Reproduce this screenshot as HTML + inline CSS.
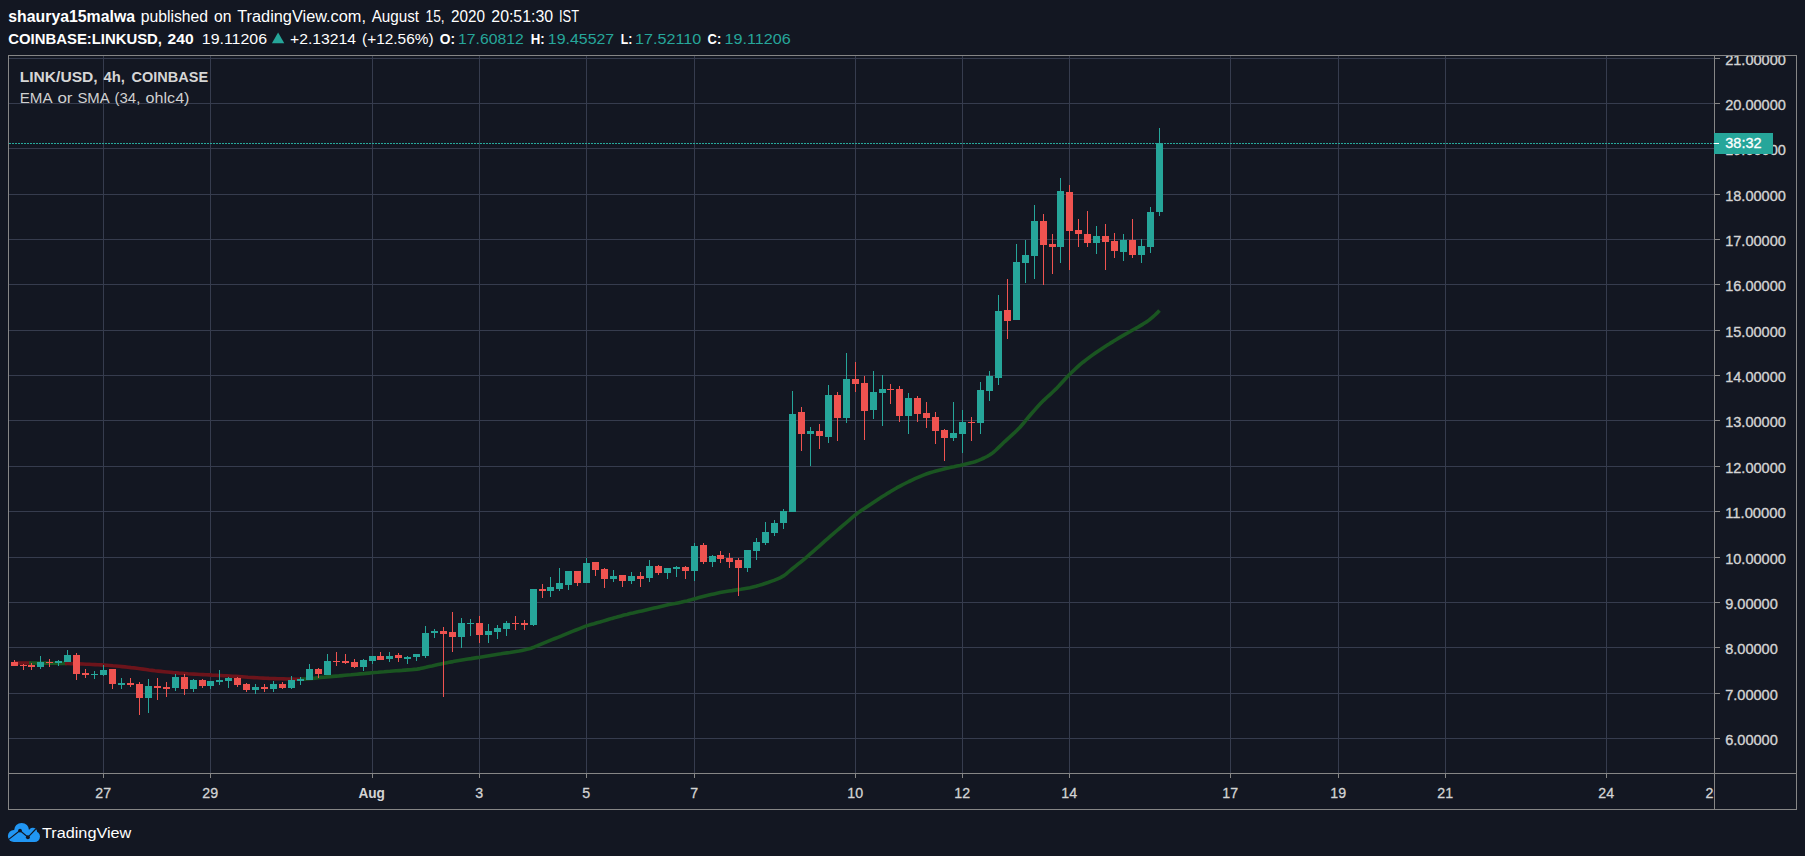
<!DOCTYPE html>
<html><head><meta charset="utf-8"><title>LINK/USD chart</title>
<style>html,body{margin:0;padding:0;background:#131722;}body{width:1805px;height:856px;overflow:hidden;}svg{display:block;}text{font-family:"Liberation Sans", sans-serif;}</style></head><body>
<svg width="1805" height="856" viewBox="0 0 1805 856">
<rect width="1805" height="856" fill="#131722"/>
<g shape-rendering="crispEdges" fill="#363c4e">
<rect x="9" y="58" width="1705" height="1"/>
<rect x="9" y="103" width="1705" height="1"/>
<rect x="9" y="148" width="1705" height="1"/>
<rect x="9" y="194" width="1705" height="1"/>
<rect x="9" y="239" width="1705" height="1"/>
<rect x="9" y="284" width="1705" height="1"/>
<rect x="9" y="330" width="1705" height="1"/>
<rect x="9" y="375" width="1705" height="1"/>
<rect x="9" y="420" width="1705" height="1"/>
<rect x="9" y="466" width="1705" height="1"/>
<rect x="9" y="511" width="1705" height="1"/>
<rect x="9" y="557" width="1705" height="1"/>
<rect x="9" y="602" width="1705" height="1"/>
<rect x="9" y="647" width="1705" height="1"/>
<rect x="9" y="693" width="1705" height="1"/>
<rect x="9" y="738" width="1705" height="1"/>
<rect x="103" y="56" width="1" height="717"/>
<rect x="210" y="56" width="1" height="717"/>
<rect x="372" y="56" width="1" height="717"/>
<rect x="479" y="56" width="1" height="717"/>
<rect x="586" y="56" width="1" height="717"/>
<rect x="694" y="56" width="1" height="717"/>
<rect x="855" y="56" width="1" height="717"/>
<rect x="962" y="56" width="1" height="717"/>
<rect x="1069" y="56" width="1" height="717"/>
<rect x="1230" y="56" width="1" height="717"/>
<rect x="1338" y="56" width="1" height="717"/>
<rect x="1445" y="56" width="1" height="717"/>
<rect x="1606" y="56" width="1" height="717"/>
</g>
<path d="M14.5 663.0 L17.5 663.0 L20.5 663.0 L23.5 663.0 L26.5 663.0 L29.5 663.0 L31.0 663.0" fill="none" stroke="#6c141b" stroke-width="3.6" stroke-linejoin="round"/>
<path d="M29.0 663.0 L32.0 663.0 L35.0 663.0 L38.0 663.0 L41.0 663.1 L44.0 663.1 L47.0 663.1 L50.0 663.2 L53.0 663.2 L56.0 663.3 L59.0 663.4 L62.0 663.4 L65.0 663.5 L67.0 663.5" fill="none" stroke="#1a5521" stroke-width="3.6" stroke-linejoin="round"/>
<path d="M65.0 663.5 L68.0 663.5 L71.0 663.6 L74.0 663.7 L77.0 663.8 L80.0 663.9 L83.0 664.0 L86.0 664.2 L89.0 664.3 L92.0 664.5 L95.0 664.6 L98.0 664.8 L101.0 664.9 L104.0 665.1 L107.0 665.3 L110.0 665.5 L113.0 665.8 L116.0 666.0 L119.0 666.3 L122.0 666.6 L125.0 666.9 L128.0 667.2 L131.0 667.6 L134.0 667.9 L137.0 668.3 L140.0 668.7 L143.0 669.1 L146.0 669.5 L149.0 670.0 L152.0 670.4 L155.0 670.8 L158.0 671.1 L161.0 671.4 L164.0 671.7 L167.0 672.0 L170.0 672.3 L173.0 672.6 L176.0 672.8 L179.0 673.1 L182.0 673.3 L185.0 673.5 L188.0 673.8 L191.0 674.0 L194.0 674.1 L197.0 674.3 L200.0 674.5 L203.0 674.6 L206.0 674.8 L209.0 674.9 L212.0 675.1 L215.0 675.2 L218.0 675.4 L221.0 675.5 L224.0 675.7 L227.0 675.8 L230.0 676.0 L233.0 676.2 L236.0 676.4 L239.0 676.6 L242.0 676.8 L245.0 677.0 L248.0 677.3 L251.0 677.5 L254.0 677.6 L257.0 677.8 L260.0 678.0 L263.0 678.1 L266.0 678.2 L269.0 678.4 L272.0 678.5 L275.0 678.6 L278.0 678.7 L281.0 678.8 L284.0 678.9 L287.0 679.0 L290.0 679.0 L293.0 679.1 L296.0 679.2 L299.0 679.2 L302.0 679.2" fill="none" stroke="#6c141b" stroke-width="3.6" stroke-linejoin="round"/>
<path d="M300.0 679.2 L303.0 679.1 L306.0 679.0 L309.0 678.7 L312.0 678.4 L315.0 678.1 L318.0 677.7 L321.0 677.4 L324.0 677.2 L327.0 676.9 L330.0 676.7 L333.0 676.4 L336.0 676.1 L339.0 675.9 L342.0 675.6 L345.0 675.3 L348.0 675.0 L351.0 674.8 L354.0 674.5 L357.0 674.2 L360.0 673.9 L363.0 673.7 L366.0 673.4 L369.0 673.1 L372.0 672.8 L375.0 672.5 L378.0 672.3 L381.0 672.0 L384.0 671.8 L387.0 671.5 L390.0 671.3 L393.0 671.0 L396.0 670.8 L399.0 670.6 L402.0 670.4 L405.0 670.1 L408.0 669.9 L411.0 669.7 L414.0 669.4 L417.0 669.1 L420.0 668.6 L423.0 667.9 L426.0 667.3 L429.0 666.6 L432.0 666.0 L435.0 665.3 L438.0 664.6 L441.0 663.9 L444.0 663.3 L447.0 662.7 L450.0 662.1 L453.0 661.6 L456.0 661.0 L459.0 660.5 L462.0 660.0 L465.0 659.5 L468.0 659.0 L471.0 658.6 L474.0 658.1 L477.0 657.6 L480.0 657.2 L483.0 656.7 L486.0 656.2 L489.0 655.7 L492.0 655.2 L495.0 654.7 L498.0 654.2 L501.0 653.8 L504.0 653.3 L507.0 652.9 L510.0 652.5 L513.0 652.0 L516.0 651.5 L519.0 651.0 L522.0 650.4 L525.0 649.8 L528.0 649.1 L531.0 648.2 L534.0 647.1 L537.0 645.9 L540.0 644.6 L543.0 643.3 L546.0 642.1 L549.0 640.9 L552.0 639.7 L555.0 638.5 L558.0 637.3 L561.0 636.1 L564.0 634.8 L567.0 633.6 L570.0 632.4 L573.0 631.2 L576.0 630.0 L579.0 628.8 L582.0 627.6 L585.0 626.4 L588.0 625.4 L591.0 624.5 L594.0 623.7 L597.0 622.8 L600.0 622.0 L603.0 621.1 L606.0 620.2 L609.0 619.3 L612.0 618.4 L615.0 617.6 L618.0 616.7 L621.0 615.9 L624.0 615.1 L627.0 614.4 L630.0 613.6 L633.0 613.0 L636.0 612.3 L639.0 611.6 L642.0 610.9 L645.0 610.2 L648.0 609.5 L651.0 608.8 L654.0 608.1 L657.0 607.4 L660.0 606.7 L663.0 606.0 L666.0 605.3 L669.0 604.6 L672.0 604.0 L675.0 603.5 L678.0 602.9 L681.0 602.3 L684.0 601.6 L687.0 600.9 L690.0 600.1 L693.0 599.2 L696.0 598.4 L699.0 597.6 L702.0 596.8 L705.0 596.0 L708.0 595.3 L711.0 594.6 L714.0 593.9 L717.0 593.2 L720.0 592.6 L723.0 592.0 L726.0 591.5 L729.0 591.0 L732.0 590.6 L735.0 590.1 L738.0 589.6 L741.0 589.2 L744.0 588.7 L747.0 588.2 L750.0 587.7 L753.0 587.0 L756.0 586.3 L759.0 585.4 L762.0 584.5 L765.0 583.5 L768.0 582.5 L771.0 581.4 L774.0 580.4 L777.0 579.2 L780.0 577.8 L783.0 576.2 L786.0 574.1 L789.0 571.5 L792.0 569.0 L795.0 566.6 L798.0 564.2 L801.0 561.8 L804.0 559.3 L807.0 556.8 L810.0 554.2 L813.0 551.6 L816.0 548.9 L819.0 546.3 L822.0 543.6 L825.0 540.9 L828.0 538.3 L831.0 535.7 L834.0 533.1 L837.0 530.5 L840.0 528.0 L843.0 525.4 L846.0 522.9 L849.0 520.3 L852.0 517.7 L855.0 515.2 L858.0 512.9 L861.0 510.8 L864.0 508.7 L867.0 506.7 L870.0 504.7 L873.0 502.7 L876.0 500.7 L879.0 498.7 L882.0 496.8 L885.0 495.0 L888.0 493.1 L891.0 491.3 L894.0 489.5 L897.0 487.7 L900.0 486.1 L903.0 484.5 L906.0 483.0 L909.0 481.5 L912.0 480.1 L915.0 478.7 L918.0 477.4 L921.0 476.1 L924.0 474.9 L927.0 473.8 L930.0 472.8 L933.0 471.9 L936.0 471.0 L939.0 470.2 L942.0 469.5 L945.0 468.7 L948.0 468.0 L951.0 467.3 L954.0 466.7 L957.0 466.0 L960.0 465.4 L963.0 464.7 L966.0 464.0 L969.0 463.3 L972.0 462.6 L975.0 461.7 L978.0 460.6 L981.0 459.4 L984.0 458.0 L987.0 456.5 L990.0 454.8 L993.0 452.6 L996.0 450.0 L999.0 447.1 L1002.0 444.2 L1005.0 441.3 L1008.0 438.6 L1011.0 435.9 L1014.0 433.2 L1017.0 430.3 L1020.0 427.2 L1023.0 423.8 L1026.0 420.2 L1029.0 416.5 L1032.0 413.0 L1035.0 409.6 L1038.0 406.3 L1041.0 403.1 L1044.0 400.1 L1047.0 397.3 L1050.0 394.6 L1053.0 391.8 L1056.0 388.9 L1059.0 385.8 L1062.0 382.5 L1065.0 379.3 L1068.0 376.1 L1071.0 373.1 L1074.0 370.2 L1077.0 367.4 L1080.0 364.7 L1083.0 362.2 L1086.0 359.9 L1089.0 357.6 L1092.0 355.4 L1095.0 353.3 L1098.0 351.2 L1101.0 349.2 L1104.0 347.2 L1107.0 345.3 L1110.0 343.4 L1113.0 341.6 L1116.0 339.7 L1119.0 337.9 L1122.0 336.1 L1125.0 334.4 L1128.0 332.7 L1131.0 331.0 L1134.0 329.3 L1137.0 327.7 L1140.0 325.9 L1143.0 324.1 L1146.0 322.2 L1149.0 320.1 L1152.0 317.7 L1155.0 315.0 L1158.0 312.1 L1159.5 310.5" fill="none" stroke="#1a5521" stroke-width="3.6" stroke-linejoin="round"/>
<g shape-rendering="crispEdges">
<rect x="14" y="660" width="1" height="6" fill="#ef5350"/>
<rect x="11" y="662" width="7" height="4" fill="#ef5350"/>
<rect x="23" y="664" width="1" height="6" fill="#ef5350"/>
<rect x="20" y="665" width="7" height="1" fill="#ef5350"/>
<rect x="31" y="663" width="1" height="7" fill="#ef5350"/>
<rect x="28" y="665" width="7" height="2" fill="#ef5350"/>
<rect x="40" y="656" width="1" height="13" fill="#26a69a"/>
<rect x="37" y="662" width="7" height="5" fill="#26a69a"/>
<rect x="49" y="659" width="1" height="8" fill="#ef5350"/>
<rect x="46" y="662" width="7" height="1" fill="#ef5350"/>
<rect x="58" y="660" width="1" height="6" fill="#26a69a"/>
<rect x="55" y="661" width="7" height="2" fill="#26a69a"/>
<rect x="67" y="650" width="1" height="12" fill="#26a69a"/>
<rect x="64" y="655" width="7" height="7" fill="#26a69a"/>
<rect x="76" y="653" width="1" height="27" fill="#ef5350"/>
<rect x="73" y="655" width="7" height="19" fill="#ef5350"/>
<rect x="85" y="669" width="1" height="9" fill="#ef5350"/>
<rect x="82" y="673" width="7" height="2" fill="#ef5350"/>
<rect x="94" y="671" width="1" height="8" fill="#26a69a"/>
<rect x="91" y="674" width="7" height="1" fill="#26a69a"/>
<rect x="103" y="665" width="1" height="11" fill="#26a69a"/>
<rect x="100" y="670" width="7" height="5" fill="#26a69a"/>
<rect x="112" y="669" width="1" height="20" fill="#ef5350"/>
<rect x="109" y="669" width="7" height="15" fill="#ef5350"/>
<rect x="121" y="678" width="1" height="11" fill="#26a69a"/>
<rect x="118" y="683" width="7" height="2" fill="#26a69a"/>
<rect x="130" y="678" width="1" height="9" fill="#ef5350"/>
<rect x="127" y="683" width="7" height="2" fill="#ef5350"/>
<rect x="139" y="682" width="1" height="33" fill="#ef5350"/>
<rect x="136" y="684" width="7" height="14" fill="#ef5350"/>
<rect x="148" y="679" width="1" height="34" fill="#26a69a"/>
<rect x="145" y="686" width="7" height="12" fill="#26a69a"/>
<rect x="157" y="678" width="1" height="22" fill="#ef5350"/>
<rect x="154" y="686" width="7" height="2" fill="#ef5350"/>
<rect x="166" y="682" width="1" height="15" fill="#ef5350"/>
<rect x="163" y="687" width="7" height="2" fill="#ef5350"/>
<rect x="175" y="674" width="1" height="17" fill="#26a69a"/>
<rect x="172" y="677" width="7" height="11" fill="#26a69a"/>
<rect x="184" y="674" width="1" height="21" fill="#ef5350"/>
<rect x="181" y="677" width="7" height="12" fill="#ef5350"/>
<rect x="193" y="679" width="1" height="13" fill="#26a69a"/>
<rect x="190" y="680" width="7" height="9" fill="#26a69a"/>
<rect x="202" y="679" width="1" height="9" fill="#ef5350"/>
<rect x="199" y="680" width="7" height="6" fill="#ef5350"/>
<rect x="210" y="681" width="1" height="8" fill="#26a69a"/>
<rect x="207" y="681" width="7" height="5" fill="#26a69a"/>
<rect x="219" y="670" width="1" height="15" fill="#26a69a"/>
<rect x="216" y="680" width="7" height="2" fill="#26a69a"/>
<rect x="228" y="677" width="1" height="11" fill="#26a69a"/>
<rect x="225" y="678" width="7" height="3" fill="#26a69a"/>
<rect x="237" y="677" width="1" height="10" fill="#ef5350"/>
<rect x="234" y="678" width="7" height="7" fill="#ef5350"/>
<rect x="246" y="683" width="1" height="9" fill="#ef5350"/>
<rect x="243" y="684" width="7" height="6" fill="#ef5350"/>
<rect x="255" y="684" width="1" height="10" fill="#26a69a"/>
<rect x="252" y="687" width="7" height="3" fill="#26a69a"/>
<rect x="264" y="684" width="1" height="8" fill="#ef5350"/>
<rect x="261" y="687" width="7" height="2" fill="#ef5350"/>
<rect x="273" y="681" width="1" height="11" fill="#26a69a"/>
<rect x="270" y="684" width="7" height="5" fill="#26a69a"/>
<rect x="282" y="682" width="1" height="7" fill="#ef5350"/>
<rect x="279" y="684" width="7" height="4" fill="#ef5350"/>
<rect x="291" y="676" width="1" height="13" fill="#26a69a"/>
<rect x="288" y="680" width="7" height="8" fill="#26a69a"/>
<rect x="300" y="677" width="1" height="8" fill="#26a69a"/>
<rect x="297" y="679" width="7" height="2" fill="#26a69a"/>
<rect x="309" y="664" width="1" height="16" fill="#26a69a"/>
<rect x="306" y="669" width="7" height="11" fill="#26a69a"/>
<rect x="318" y="668" width="1" height="10" fill="#ef5350"/>
<rect x="315" y="669" width="7" height="5" fill="#ef5350"/>
<rect x="327" y="654" width="1" height="21" fill="#26a69a"/>
<rect x="324" y="661" width="7" height="14" fill="#26a69a"/>
<rect x="336" y="652" width="1" height="14" fill="#ef5350"/>
<rect x="333" y="661" width="7" height="1" fill="#ef5350"/>
<rect x="345" y="654" width="1" height="10" fill="#ef5350"/>
<rect x="342" y="661" width="7" height="2" fill="#ef5350"/>
<rect x="354" y="659" width="1" height="9" fill="#ef5350"/>
<rect x="351" y="662" width="7" height="5" fill="#ef5350"/>
<rect x="363" y="659" width="1" height="12" fill="#26a69a"/>
<rect x="360" y="660" width="7" height="7" fill="#26a69a"/>
<rect x="372" y="656" width="1" height="8" fill="#26a69a"/>
<rect x="369" y="656" width="7" height="5" fill="#26a69a"/>
<rect x="380" y="652" width="1" height="8" fill="#ef5350"/>
<rect x="377" y="656" width="7" height="4" fill="#ef5350"/>
<rect x="389" y="652" width="1" height="10" fill="#26a69a"/>
<rect x="386" y="656" width="7" height="3" fill="#26a69a"/>
<rect x="398" y="653" width="1" height="9" fill="#ef5350"/>
<rect x="395" y="655" width="7" height="3" fill="#ef5350"/>
<rect x="407" y="656" width="1" height="8" fill="#26a69a"/>
<rect x="404" y="657" width="7" height="2" fill="#26a69a"/>
<rect x="416" y="654" width="1" height="7" fill="#26a69a"/>
<rect x="413" y="654" width="7" height="3" fill="#26a69a"/>
<rect x="425" y="626" width="1" height="32" fill="#26a69a"/>
<rect x="422" y="633" width="7" height="23" fill="#26a69a"/>
<rect x="434" y="629" width="1" height="9" fill="#26a69a"/>
<rect x="431" y="631" width="7" height="2" fill="#26a69a"/>
<rect x="443" y="627" width="1" height="70" fill="#ef5350"/>
<rect x="440" y="631" width="7" height="3" fill="#ef5350"/>
<rect x="452" y="612" width="1" height="40" fill="#ef5350"/>
<rect x="449" y="632" width="7" height="5" fill="#ef5350"/>
<rect x="461" y="618" width="1" height="30" fill="#26a69a"/>
<rect x="458" y="623" width="7" height="14" fill="#26a69a"/>
<rect x="470" y="619" width="1" height="17" fill="#26a69a"/>
<rect x="467" y="623" width="7" height="1" fill="#26a69a"/>
<rect x="479" y="616" width="1" height="27" fill="#ef5350"/>
<rect x="476" y="623" width="7" height="12" fill="#ef5350"/>
<rect x="488" y="624" width="1" height="19" fill="#26a69a"/>
<rect x="485" y="631" width="7" height="4" fill="#26a69a"/>
<rect x="497" y="625" width="1" height="14" fill="#26a69a"/>
<rect x="494" y="628" width="7" height="4" fill="#26a69a"/>
<rect x="506" y="621" width="1" height="15" fill="#26a69a"/>
<rect x="503" y="623" width="7" height="6" fill="#26a69a"/>
<rect x="515" y="616" width="1" height="14" fill="#ef5350"/>
<rect x="512" y="623" width="7" height="1" fill="#ef5350"/>
<rect x="524" y="620" width="1" height="10" fill="#ef5350"/>
<rect x="521" y="623" width="7" height="2" fill="#ef5350"/>
<rect x="533" y="589" width="1" height="37" fill="#26a69a"/>
<rect x="530" y="589" width="7" height="36" fill="#26a69a"/>
<rect x="542" y="584" width="1" height="14" fill="#ef5350"/>
<rect x="539" y="589" width="7" height="2" fill="#ef5350"/>
<rect x="550" y="577" width="1" height="20" fill="#26a69a"/>
<rect x="547" y="587" width="7" height="4" fill="#26a69a"/>
<rect x="559" y="568" width="1" height="23" fill="#26a69a"/>
<rect x="556" y="583" width="7" height="6" fill="#26a69a"/>
<rect x="568" y="571" width="1" height="19" fill="#26a69a"/>
<rect x="565" y="571" width="7" height="14" fill="#26a69a"/>
<rect x="577" y="571" width="1" height="15" fill="#ef5350"/>
<rect x="574" y="571" width="7" height="12" fill="#ef5350"/>
<rect x="586" y="558" width="1" height="25" fill="#26a69a"/>
<rect x="583" y="563" width="7" height="20" fill="#26a69a"/>
<rect x="595" y="562" width="1" height="14" fill="#ef5350"/>
<rect x="592" y="562" width="7" height="8" fill="#ef5350"/>
<rect x="604" y="568" width="1" height="20" fill="#ef5350"/>
<rect x="601" y="569" width="7" height="10" fill="#ef5350"/>
<rect x="613" y="570" width="1" height="12" fill="#26a69a"/>
<rect x="610" y="576" width="7" height="3" fill="#26a69a"/>
<rect x="622" y="575" width="1" height="12" fill="#ef5350"/>
<rect x="619" y="575" width="7" height="6" fill="#ef5350"/>
<rect x="631" y="572" width="1" height="12" fill="#26a69a"/>
<rect x="628" y="576" width="7" height="5" fill="#26a69a"/>
<rect x="640" y="572" width="1" height="15" fill="#ef5350"/>
<rect x="637" y="576" width="7" height="3" fill="#ef5350"/>
<rect x="649" y="560" width="1" height="22" fill="#26a69a"/>
<rect x="646" y="566" width="7" height="12" fill="#26a69a"/>
<rect x="658" y="565" width="1" height="10" fill="#ef5350"/>
<rect x="655" y="566" width="7" height="7" fill="#ef5350"/>
<rect x="667" y="568" width="1" height="11" fill="#26a69a"/>
<rect x="664" y="568" width="7" height="5" fill="#26a69a"/>
<rect x="676" y="566" width="1" height="11" fill="#26a69a"/>
<rect x="673" y="567" width="7" height="2" fill="#26a69a"/>
<rect x="685" y="566" width="1" height="13" fill="#ef5350"/>
<rect x="682" y="567" width="7" height="4" fill="#ef5350"/>
<rect x="694" y="543" width="1" height="38" fill="#26a69a"/>
<rect x="691" y="546" width="7" height="25" fill="#26a69a"/>
<rect x="703" y="543" width="1" height="21" fill="#ef5350"/>
<rect x="700" y="545" width="7" height="17" fill="#ef5350"/>
<rect x="712" y="555" width="1" height="12" fill="#26a69a"/>
<rect x="709" y="556" width="7" height="6" fill="#26a69a"/>
<rect x="720" y="551" width="1" height="12" fill="#ef5350"/>
<rect x="717" y="555" width="7" height="4" fill="#ef5350"/>
<rect x="729" y="553" width="1" height="15" fill="#ef5350"/>
<rect x="726" y="558" width="7" height="4" fill="#ef5350"/>
<rect x="738" y="558" width="1" height="38" fill="#ef5350"/>
<rect x="735" y="560" width="7" height="8" fill="#ef5350"/>
<rect x="747" y="550" width="1" height="22" fill="#26a69a"/>
<rect x="744" y="550" width="7" height="18" fill="#26a69a"/>
<rect x="756" y="538" width="1" height="22" fill="#26a69a"/>
<rect x="753" y="542" width="7" height="9" fill="#26a69a"/>
<rect x="765" y="522" width="1" height="23" fill="#26a69a"/>
<rect x="762" y="532" width="7" height="11" fill="#26a69a"/>
<rect x="774" y="520" width="1" height="16" fill="#26a69a"/>
<rect x="771" y="523" width="7" height="10" fill="#26a69a"/>
<rect x="783" y="509" width="1" height="20" fill="#26a69a"/>
<rect x="780" y="511" width="7" height="12" fill="#26a69a"/>
<rect x="792" y="391" width="1" height="121" fill="#26a69a"/>
<rect x="789" y="414" width="7" height="98" fill="#26a69a"/>
<rect x="801" y="407" width="1" height="44" fill="#ef5350"/>
<rect x="798" y="412" width="7" height="22" fill="#ef5350"/>
<rect x="810" y="427" width="1" height="39" fill="#26a69a"/>
<rect x="807" y="431" width="7" height="3" fill="#26a69a"/>
<rect x="819" y="424" width="1" height="25" fill="#ef5350"/>
<rect x="816" y="431" width="7" height="5" fill="#ef5350"/>
<rect x="828" y="385" width="1" height="58" fill="#26a69a"/>
<rect x="825" y="395" width="7" height="42" fill="#26a69a"/>
<rect x="837" y="392" width="1" height="49" fill="#ef5350"/>
<rect x="834" y="395" width="7" height="23" fill="#ef5350"/>
<rect x="846" y="353" width="1" height="70" fill="#26a69a"/>
<rect x="843" y="379" width="7" height="39" fill="#26a69a"/>
<rect x="855" y="362" width="1" height="30" fill="#ef5350"/>
<rect x="852" y="379" width="7" height="5" fill="#ef5350"/>
<rect x="864" y="376" width="1" height="64" fill="#ef5350"/>
<rect x="861" y="383" width="7" height="28" fill="#ef5350"/>
<rect x="873" y="371" width="1" height="48" fill="#26a69a"/>
<rect x="870" y="392" width="7" height="18" fill="#26a69a"/>
<rect x="882" y="375" width="1" height="51" fill="#26a69a"/>
<rect x="879" y="389" width="7" height="4" fill="#26a69a"/>
<rect x="890" y="384" width="1" height="20" fill="#ef5350"/>
<rect x="887" y="389" width="7" height="1" fill="#ef5350"/>
<rect x="899" y="386" width="1" height="36" fill="#ef5350"/>
<rect x="896" y="389" width="7" height="27" fill="#ef5350"/>
<rect x="908" y="393" width="1" height="41" fill="#26a69a"/>
<rect x="905" y="398" width="7" height="18" fill="#26a69a"/>
<rect x="917" y="396" width="1" height="26" fill="#ef5350"/>
<rect x="914" y="398" width="7" height="16" fill="#ef5350"/>
<rect x="926" y="402" width="1" height="26" fill="#ef5350"/>
<rect x="923" y="413" width="7" height="5" fill="#ef5350"/>
<rect x="935" y="412" width="1" height="32" fill="#ef5350"/>
<rect x="932" y="417" width="7" height="14" fill="#ef5350"/>
<rect x="944" y="429" width="1" height="32" fill="#ef5350"/>
<rect x="941" y="430" width="7" height="8" fill="#ef5350"/>
<rect x="953" y="402" width="1" height="39" fill="#26a69a"/>
<rect x="950" y="433" width="7" height="5" fill="#26a69a"/>
<rect x="962" y="410" width="1" height="43" fill="#26a69a"/>
<rect x="959" y="422" width="7" height="12" fill="#26a69a"/>
<rect x="971" y="417" width="1" height="24" fill="#ef5350"/>
<rect x="968" y="422" width="7" height="1" fill="#ef5350"/>
<rect x="980" y="382" width="1" height="52" fill="#26a69a"/>
<rect x="977" y="390" width="7" height="33" fill="#26a69a"/>
<rect x="989" y="371" width="1" height="30" fill="#26a69a"/>
<rect x="986" y="376" width="7" height="15" fill="#26a69a"/>
<rect x="998" y="295" width="1" height="90" fill="#26a69a"/>
<rect x="995" y="311" width="7" height="67" fill="#26a69a"/>
<rect x="1007" y="279" width="1" height="60" fill="#ef5350"/>
<rect x="1004" y="310" width="7" height="11" fill="#ef5350"/>
<rect x="1016" y="244" width="1" height="76" fill="#26a69a"/>
<rect x="1013" y="262" width="7" height="58" fill="#26a69a"/>
<rect x="1025" y="240" width="1" height="43" fill="#26a69a"/>
<rect x="1022" y="255" width="7" height="8" fill="#26a69a"/>
<rect x="1034" y="205" width="1" height="74" fill="#26a69a"/>
<rect x="1031" y="221" width="7" height="35" fill="#26a69a"/>
<rect x="1043" y="214" width="1" height="71" fill="#ef5350"/>
<rect x="1040" y="221" width="7" height="24" fill="#ef5350"/>
<rect x="1052" y="234" width="1" height="40" fill="#ef5350"/>
<rect x="1049" y="244" width="7" height="3" fill="#ef5350"/>
<rect x="1060" y="178" width="1" height="85" fill="#26a69a"/>
<rect x="1057" y="191" width="7" height="56" fill="#26a69a"/>
<rect x="1069" y="185" width="1" height="85" fill="#ef5350"/>
<rect x="1066" y="192" width="7" height="39" fill="#ef5350"/>
<rect x="1078" y="219" width="1" height="28" fill="#ef5350"/>
<rect x="1075" y="230" width="7" height="4" fill="#ef5350"/>
<rect x="1087" y="211" width="1" height="36" fill="#ef5350"/>
<rect x="1084" y="234" width="7" height="9" fill="#ef5350"/>
<rect x="1096" y="226" width="1" height="28" fill="#26a69a"/>
<rect x="1093" y="236" width="7" height="7" fill="#26a69a"/>
<rect x="1105" y="224" width="1" height="46" fill="#ef5350"/>
<rect x="1102" y="236" width="7" height="6" fill="#ef5350"/>
<rect x="1114" y="233" width="1" height="25" fill="#ef5350"/>
<rect x="1111" y="241" width="7" height="10" fill="#ef5350"/>
<rect x="1123" y="234" width="1" height="27" fill="#26a69a"/>
<rect x="1120" y="240" width="7" height="12" fill="#26a69a"/>
<rect x="1132" y="219" width="1" height="39" fill="#ef5350"/>
<rect x="1129" y="240" width="7" height="15" fill="#ef5350"/>
<rect x="1141" y="239" width="1" height="24" fill="#26a69a"/>
<rect x="1138" y="246" width="7" height="9" fill="#26a69a"/>
<rect x="1150" y="207" width="1" height="46" fill="#26a69a"/>
<rect x="1147" y="212" width="7" height="35" fill="#26a69a"/>
<rect x="1159" y="128" width="1" height="88" fill="#26a69a"/>
<rect x="1156" y="143" width="7" height="69" fill="#26a69a"/>
</g>
<g shape-rendering="crispEdges" fill="#27a99c">
<path d="M9 143h2v1h-2zM12 143h2v1h-2zM15 143h2v1h-2zM18 143h2v1h-2zM21 143h2v1h-2zM24 143h2v1h-2zM27 143h2v1h-2zM30 143h2v1h-2zM33 143h2v1h-2zM36 143h2v1h-2zM39 143h2v1h-2zM42 143h2v1h-2zM45 143h2v1h-2zM48 143h2v1h-2zM51 143h2v1h-2zM54 143h2v1h-2zM57 143h2v1h-2zM60 143h2v1h-2zM63 143h2v1h-2zM66 143h2v1h-2zM69 143h2v1h-2zM72 143h2v1h-2zM75 143h2v1h-2zM78 143h2v1h-2zM81 143h2v1h-2zM84 143h2v1h-2zM87 143h2v1h-2zM90 143h2v1h-2zM93 143h2v1h-2zM96 143h2v1h-2zM99 143h2v1h-2zM102 143h2v1h-2zM105 143h2v1h-2zM108 143h2v1h-2zM111 143h2v1h-2zM114 143h2v1h-2zM117 143h2v1h-2zM120 143h2v1h-2zM123 143h2v1h-2zM126 143h2v1h-2zM129 143h2v1h-2zM132 143h2v1h-2zM135 143h2v1h-2zM138 143h2v1h-2zM141 143h2v1h-2zM144 143h2v1h-2zM147 143h2v1h-2zM150 143h2v1h-2zM153 143h2v1h-2zM156 143h2v1h-2zM159 143h2v1h-2zM162 143h2v1h-2zM165 143h2v1h-2zM168 143h2v1h-2zM171 143h2v1h-2zM174 143h2v1h-2zM177 143h2v1h-2zM180 143h2v1h-2zM183 143h2v1h-2zM186 143h2v1h-2zM189 143h2v1h-2zM192 143h2v1h-2zM195 143h2v1h-2zM198 143h2v1h-2zM201 143h2v1h-2zM204 143h2v1h-2zM207 143h2v1h-2zM210 143h2v1h-2zM213 143h2v1h-2zM216 143h2v1h-2zM219 143h2v1h-2zM222 143h2v1h-2zM225 143h2v1h-2zM228 143h2v1h-2zM231 143h2v1h-2zM234 143h2v1h-2zM237 143h2v1h-2zM240 143h2v1h-2zM243 143h2v1h-2zM246 143h2v1h-2zM249 143h2v1h-2zM252 143h2v1h-2zM255 143h2v1h-2zM258 143h2v1h-2zM261 143h2v1h-2zM264 143h2v1h-2zM267 143h2v1h-2zM270 143h2v1h-2zM273 143h2v1h-2zM276 143h2v1h-2zM279 143h2v1h-2zM282 143h2v1h-2zM285 143h2v1h-2zM288 143h2v1h-2zM291 143h2v1h-2zM294 143h2v1h-2zM297 143h2v1h-2zM300 143h2v1h-2zM303 143h2v1h-2zM306 143h2v1h-2zM309 143h2v1h-2zM312 143h2v1h-2zM315 143h2v1h-2zM318 143h2v1h-2zM321 143h2v1h-2zM324 143h2v1h-2zM327 143h2v1h-2zM330 143h2v1h-2zM333 143h2v1h-2zM336 143h2v1h-2zM339 143h2v1h-2zM342 143h2v1h-2zM345 143h2v1h-2zM348 143h2v1h-2zM351 143h2v1h-2zM354 143h2v1h-2zM357 143h2v1h-2zM360 143h2v1h-2zM363 143h2v1h-2zM366 143h2v1h-2zM369 143h2v1h-2zM372 143h2v1h-2zM375 143h2v1h-2zM378 143h2v1h-2zM381 143h2v1h-2zM384 143h2v1h-2zM387 143h2v1h-2zM390 143h2v1h-2zM393 143h2v1h-2zM396 143h2v1h-2zM399 143h2v1h-2zM402 143h2v1h-2zM405 143h2v1h-2zM408 143h2v1h-2zM411 143h2v1h-2zM414 143h2v1h-2zM417 143h2v1h-2zM420 143h2v1h-2zM423 143h2v1h-2zM426 143h2v1h-2zM429 143h2v1h-2zM432 143h2v1h-2zM435 143h2v1h-2zM438 143h2v1h-2zM441 143h2v1h-2zM444 143h2v1h-2zM447 143h2v1h-2zM450 143h2v1h-2zM453 143h2v1h-2zM456 143h2v1h-2zM459 143h2v1h-2zM462 143h2v1h-2zM465 143h2v1h-2zM468 143h2v1h-2zM471 143h2v1h-2zM474 143h2v1h-2zM477 143h2v1h-2zM480 143h2v1h-2zM483 143h2v1h-2zM486 143h2v1h-2zM489 143h2v1h-2zM492 143h2v1h-2zM495 143h2v1h-2zM498 143h2v1h-2zM501 143h2v1h-2zM504 143h2v1h-2zM507 143h2v1h-2zM510 143h2v1h-2zM513 143h2v1h-2zM516 143h2v1h-2zM519 143h2v1h-2zM522 143h2v1h-2zM525 143h2v1h-2zM528 143h2v1h-2zM531 143h2v1h-2zM534 143h2v1h-2zM537 143h2v1h-2zM540 143h2v1h-2zM543 143h2v1h-2zM546 143h2v1h-2zM549 143h2v1h-2zM552 143h2v1h-2zM555 143h2v1h-2zM558 143h2v1h-2zM561 143h2v1h-2zM564 143h2v1h-2zM567 143h2v1h-2zM570 143h2v1h-2zM573 143h2v1h-2zM576 143h2v1h-2zM579 143h2v1h-2zM582 143h2v1h-2zM585 143h2v1h-2zM588 143h2v1h-2zM591 143h2v1h-2zM594 143h2v1h-2zM597 143h2v1h-2zM600 143h2v1h-2zM603 143h2v1h-2zM606 143h2v1h-2zM609 143h2v1h-2zM612 143h2v1h-2zM615 143h2v1h-2zM618 143h2v1h-2zM621 143h2v1h-2zM624 143h2v1h-2zM627 143h2v1h-2zM630 143h2v1h-2zM633 143h2v1h-2zM636 143h2v1h-2zM639 143h2v1h-2zM642 143h2v1h-2zM645 143h2v1h-2zM648 143h2v1h-2zM651 143h2v1h-2zM654 143h2v1h-2zM657 143h2v1h-2zM660 143h2v1h-2zM663 143h2v1h-2zM666 143h2v1h-2zM669 143h2v1h-2zM672 143h2v1h-2zM675 143h2v1h-2zM678 143h2v1h-2zM681 143h2v1h-2zM684 143h2v1h-2zM687 143h2v1h-2zM690 143h2v1h-2zM693 143h2v1h-2zM696 143h2v1h-2zM699 143h2v1h-2zM702 143h2v1h-2zM705 143h2v1h-2zM708 143h2v1h-2zM711 143h2v1h-2zM714 143h2v1h-2zM717 143h2v1h-2zM720 143h2v1h-2zM723 143h2v1h-2zM726 143h2v1h-2zM729 143h2v1h-2zM732 143h2v1h-2zM735 143h2v1h-2zM738 143h2v1h-2zM741 143h2v1h-2zM744 143h2v1h-2zM747 143h2v1h-2zM750 143h2v1h-2zM753 143h2v1h-2zM756 143h2v1h-2zM759 143h2v1h-2zM762 143h2v1h-2zM765 143h2v1h-2zM768 143h2v1h-2zM771 143h2v1h-2zM774 143h2v1h-2zM777 143h2v1h-2zM780 143h2v1h-2zM783 143h2v1h-2zM786 143h2v1h-2zM789 143h2v1h-2zM792 143h2v1h-2zM795 143h2v1h-2zM798 143h2v1h-2zM801 143h2v1h-2zM804 143h2v1h-2zM807 143h2v1h-2zM810 143h2v1h-2zM813 143h2v1h-2zM816 143h2v1h-2zM819 143h2v1h-2zM822 143h2v1h-2zM825 143h2v1h-2zM828 143h2v1h-2zM831 143h2v1h-2zM834 143h2v1h-2zM837 143h2v1h-2zM840 143h2v1h-2zM843 143h2v1h-2zM846 143h2v1h-2zM849 143h2v1h-2zM852 143h2v1h-2zM855 143h2v1h-2zM858 143h2v1h-2zM861 143h2v1h-2zM864 143h2v1h-2zM867 143h2v1h-2zM870 143h2v1h-2zM873 143h2v1h-2zM876 143h2v1h-2zM879 143h2v1h-2zM882 143h2v1h-2zM885 143h2v1h-2zM888 143h2v1h-2zM891 143h2v1h-2zM894 143h2v1h-2zM897 143h2v1h-2zM900 143h2v1h-2zM903 143h2v1h-2zM906 143h2v1h-2zM909 143h2v1h-2zM912 143h2v1h-2zM915 143h2v1h-2zM918 143h2v1h-2zM921 143h2v1h-2zM924 143h2v1h-2zM927 143h2v1h-2zM930 143h2v1h-2zM933 143h2v1h-2zM936 143h2v1h-2zM939 143h2v1h-2zM942 143h2v1h-2zM945 143h2v1h-2zM948 143h2v1h-2zM951 143h2v1h-2zM954 143h2v1h-2zM957 143h2v1h-2zM960 143h2v1h-2zM963 143h2v1h-2zM966 143h2v1h-2zM969 143h2v1h-2zM972 143h2v1h-2zM975 143h2v1h-2zM978 143h2v1h-2zM981 143h2v1h-2zM984 143h2v1h-2zM987 143h2v1h-2zM990 143h2v1h-2zM993 143h2v1h-2zM996 143h2v1h-2zM999 143h2v1h-2zM1002 143h2v1h-2zM1005 143h2v1h-2zM1008 143h2v1h-2zM1011 143h2v1h-2zM1014 143h2v1h-2zM1017 143h2v1h-2zM1020 143h2v1h-2zM1023 143h2v1h-2zM1026 143h2v1h-2zM1029 143h2v1h-2zM1032 143h2v1h-2zM1035 143h2v1h-2zM1038 143h2v1h-2zM1041 143h2v1h-2zM1044 143h2v1h-2zM1047 143h2v1h-2zM1050 143h2v1h-2zM1053 143h2v1h-2zM1056 143h2v1h-2zM1059 143h2v1h-2zM1062 143h2v1h-2zM1065 143h2v1h-2zM1068 143h2v1h-2zM1071 143h2v1h-2zM1074 143h2v1h-2zM1077 143h2v1h-2zM1080 143h2v1h-2zM1083 143h2v1h-2zM1086 143h2v1h-2zM1089 143h2v1h-2zM1092 143h2v1h-2zM1095 143h2v1h-2zM1098 143h2v1h-2zM1101 143h2v1h-2zM1104 143h2v1h-2zM1107 143h2v1h-2zM1110 143h2v1h-2zM1113 143h2v1h-2zM1116 143h2v1h-2zM1119 143h2v1h-2zM1122 143h2v1h-2zM1125 143h2v1h-2zM1128 143h2v1h-2zM1131 143h2v1h-2zM1134 143h2v1h-2zM1137 143h2v1h-2zM1140 143h2v1h-2zM1143 143h2v1h-2zM1146 143h2v1h-2zM1149 143h2v1h-2zM1152 143h2v1h-2zM1155 143h2v1h-2zM1158 143h2v1h-2zM1161 143h2v1h-2zM1164 143h2v1h-2zM1167 143h2v1h-2zM1170 143h2v1h-2zM1173 143h2v1h-2zM1176 143h2v1h-2zM1179 143h2v1h-2zM1182 143h2v1h-2zM1185 143h2v1h-2zM1188 143h2v1h-2zM1191 143h2v1h-2zM1194 143h2v1h-2zM1197 143h2v1h-2zM1200 143h2v1h-2zM1203 143h2v1h-2zM1206 143h2v1h-2zM1209 143h2v1h-2zM1212 143h2v1h-2zM1215 143h2v1h-2zM1218 143h2v1h-2zM1221 143h2v1h-2zM1224 143h2v1h-2zM1227 143h2v1h-2zM1230 143h2v1h-2zM1233 143h2v1h-2zM1236 143h2v1h-2zM1239 143h2v1h-2zM1242 143h2v1h-2zM1245 143h2v1h-2zM1248 143h2v1h-2zM1251 143h2v1h-2zM1254 143h2v1h-2zM1257 143h2v1h-2zM1260 143h2v1h-2zM1263 143h2v1h-2zM1266 143h2v1h-2zM1269 143h2v1h-2zM1272 143h2v1h-2zM1275 143h2v1h-2zM1278 143h2v1h-2zM1281 143h2v1h-2zM1284 143h2v1h-2zM1287 143h2v1h-2zM1290 143h2v1h-2zM1293 143h2v1h-2zM1296 143h2v1h-2zM1299 143h2v1h-2zM1302 143h2v1h-2zM1305 143h2v1h-2zM1308 143h2v1h-2zM1311 143h2v1h-2zM1314 143h2v1h-2zM1317 143h2v1h-2zM1320 143h2v1h-2zM1323 143h2v1h-2zM1326 143h2v1h-2zM1329 143h2v1h-2zM1332 143h2v1h-2zM1335 143h2v1h-2zM1338 143h2v1h-2zM1341 143h2v1h-2zM1344 143h2v1h-2zM1347 143h2v1h-2zM1350 143h2v1h-2zM1353 143h2v1h-2zM1356 143h2v1h-2zM1359 143h2v1h-2zM1362 143h2v1h-2zM1365 143h2v1h-2zM1368 143h2v1h-2zM1371 143h2v1h-2zM1374 143h2v1h-2zM1377 143h2v1h-2zM1380 143h2v1h-2zM1383 143h2v1h-2zM1386 143h2v1h-2zM1389 143h2v1h-2zM1392 143h2v1h-2zM1395 143h2v1h-2zM1398 143h2v1h-2zM1401 143h2v1h-2zM1404 143h2v1h-2zM1407 143h2v1h-2zM1410 143h2v1h-2zM1413 143h2v1h-2zM1416 143h2v1h-2zM1419 143h2v1h-2zM1422 143h2v1h-2zM1425 143h2v1h-2zM1428 143h2v1h-2zM1431 143h2v1h-2zM1434 143h2v1h-2zM1437 143h2v1h-2zM1440 143h2v1h-2zM1443 143h2v1h-2zM1446 143h2v1h-2zM1449 143h2v1h-2zM1452 143h2v1h-2zM1455 143h2v1h-2zM1458 143h2v1h-2zM1461 143h2v1h-2zM1464 143h2v1h-2zM1467 143h2v1h-2zM1470 143h2v1h-2zM1473 143h2v1h-2zM1476 143h2v1h-2zM1479 143h2v1h-2zM1482 143h2v1h-2zM1485 143h2v1h-2zM1488 143h2v1h-2zM1491 143h2v1h-2zM1494 143h2v1h-2zM1497 143h2v1h-2zM1500 143h2v1h-2zM1503 143h2v1h-2zM1506 143h2v1h-2zM1509 143h2v1h-2zM1512 143h2v1h-2zM1515 143h2v1h-2zM1518 143h2v1h-2zM1521 143h2v1h-2zM1524 143h2v1h-2zM1527 143h2v1h-2zM1530 143h2v1h-2zM1533 143h2v1h-2zM1536 143h2v1h-2zM1539 143h2v1h-2zM1542 143h2v1h-2zM1545 143h2v1h-2zM1548 143h2v1h-2zM1551 143h2v1h-2zM1554 143h2v1h-2zM1557 143h2v1h-2zM1560 143h2v1h-2zM1563 143h2v1h-2zM1566 143h2v1h-2zM1569 143h2v1h-2zM1572 143h2v1h-2zM1575 143h2v1h-2zM1578 143h2v1h-2zM1581 143h2v1h-2zM1584 143h2v1h-2zM1587 143h2v1h-2zM1590 143h2v1h-2zM1593 143h2v1h-2zM1596 143h2v1h-2zM1599 143h2v1h-2zM1602 143h2v1h-2zM1605 143h2v1h-2zM1608 143h2v1h-2zM1611 143h2v1h-2zM1614 143h2v1h-2zM1617 143h2v1h-2zM1620 143h2v1h-2zM1623 143h2v1h-2zM1626 143h2v1h-2zM1629 143h2v1h-2zM1632 143h2v1h-2zM1635 143h2v1h-2zM1638 143h2v1h-2zM1641 143h2v1h-2zM1644 143h2v1h-2zM1647 143h2v1h-2zM1650 143h2v1h-2zM1653 143h2v1h-2zM1656 143h2v1h-2zM1659 143h2v1h-2zM1662 143h2v1h-2zM1665 143h2v1h-2zM1668 143h2v1h-2zM1671 143h2v1h-2zM1674 143h2v1h-2zM1677 143h2v1h-2zM1680 143h2v1h-2zM1683 143h2v1h-2zM1686 143h2v1h-2zM1689 143h2v1h-2zM1692 143h2v1h-2zM1695 143h2v1h-2zM1698 143h2v1h-2zM1701 143h2v1h-2zM1704 143h2v1h-2zM1707 143h2v1h-2zM1710 143h2v1h-2zM1713 143h2v1h-2z"/>
</g>
<g shape-rendering="crispEdges" fill="#868686">
<rect x="8" y="55" width="1789" height="1"/>
<rect x="8" y="809" width="1789" height="1"/>
<rect x="8" y="55" width="1" height="755"/>
<rect x="1796" y="55" width="1" height="755"/>
<rect x="1714" y="55" width="1" height="755"/>
<rect x="8" y="773" width="1789" height="1"/>
<rect x="1715" y="58" width="5" height="1"/>
<rect x="1715" y="103" width="5" height="1"/>
<rect x="1715" y="148" width="5" height="1"/>
<rect x="1715" y="194" width="5" height="1"/>
<rect x="1715" y="239" width="5" height="1"/>
<rect x="1715" y="284" width="5" height="1"/>
<rect x="1715" y="330" width="5" height="1"/>
<rect x="1715" y="375" width="5" height="1"/>
<rect x="1715" y="420" width="5" height="1"/>
<rect x="1715" y="466" width="5" height="1"/>
<rect x="1715" y="511" width="5" height="1"/>
<rect x="1715" y="557" width="5" height="1"/>
<rect x="1715" y="602" width="5" height="1"/>
<rect x="1715" y="647" width="5" height="1"/>
<rect x="1715" y="693" width="5" height="1"/>
<rect x="1715" y="738" width="5" height="1"/>
<rect x="103" y="774" width="1" height="4"/>
<rect x="210" y="774" width="1" height="4"/>
<rect x="372" y="774" width="1" height="4"/>
<rect x="479" y="774" width="1" height="4"/>
<rect x="586" y="774" width="1" height="4"/>
<rect x="694" y="774" width="1" height="4"/>
<rect x="855" y="774" width="1" height="4"/>
<rect x="962" y="774" width="1" height="4"/>
<rect x="1069" y="774" width="1" height="4"/>
<rect x="1230" y="774" width="1" height="4"/>
<rect x="1338" y="774" width="1" height="4"/>
<rect x="1445" y="774" width="1" height="4"/>
<rect x="1606" y="774" width="1" height="4"/>
</g>
<clipPath id="pc"><rect x="1715" y="56" width="81" height="717"/></clipPath>
<g font-size="14.9" fill="#d4d4d4" stroke="#d4d4d4" stroke-width="0.35" clip-path="url(#pc)">
<text x="1725.2" y="64.9" textLength="60.6" lengthAdjust="spacingAndGlyphs">21.00000</text>
<text x="1725.2" y="109.9" textLength="60.6" lengthAdjust="spacingAndGlyphs">20.00000</text>
<text x="1725.2" y="154.9" textLength="60.6" lengthAdjust="spacingAndGlyphs">19.00000</text>
<text x="1725.2" y="200.9" textLength="60.6" lengthAdjust="spacingAndGlyphs">18.00000</text>
<text x="1725.2" y="245.9" textLength="60.6" lengthAdjust="spacingAndGlyphs">17.00000</text>
<text x="1725.2" y="290.9" textLength="60.6" lengthAdjust="spacingAndGlyphs">16.00000</text>
<text x="1725.2" y="336.9" textLength="60.6" lengthAdjust="spacingAndGlyphs">15.00000</text>
<text x="1725.2" y="381.9" textLength="60.6" lengthAdjust="spacingAndGlyphs">14.00000</text>
<text x="1725.2" y="426.9" textLength="60.6" lengthAdjust="spacingAndGlyphs">13.00000</text>
<text x="1725.2" y="472.9" textLength="60.6" lengthAdjust="spacingAndGlyphs">12.00000</text>
<text x="1725.2" y="517.9" textLength="60.6" lengthAdjust="spacingAndGlyphs">11.00000</text>
<text x="1725.2" y="563.9" textLength="60.6" lengthAdjust="spacingAndGlyphs">10.00000</text>
<text x="1725.2" y="608.9" textLength="52.6" lengthAdjust="spacingAndGlyphs">9.00000</text>
<text x="1725.2" y="653.9" textLength="52.6" lengthAdjust="spacingAndGlyphs">8.00000</text>
<text x="1725.2" y="699.9" textLength="52.6" lengthAdjust="spacingAndGlyphs">7.00000</text>
<text x="1725.2" y="744.9" textLength="52.6" lengthAdjust="spacingAndGlyphs">6.00000</text>
</g>
<g font-size="15.4" fill="#d4d4d4" stroke="#d4d4d4" stroke-width="0.3" text-anchor="middle">
<text x="103.2" y="798" textLength="15.8" lengthAdjust="spacingAndGlyphs">27</text>
<text x="210.2" y="798" textLength="15.8" lengthAdjust="spacingAndGlyphs">29</text>
<text x="371.7" y="798" font-weight="bold" font-size="15" stroke="none" textLength="26.6" lengthAdjust="spacingAndGlyphs">Aug</text>
<text x="479.2" y="798" textLength="7.9" lengthAdjust="spacingAndGlyphs">3</text>
<text x="586.2" y="798" textLength="7.9" lengthAdjust="spacingAndGlyphs">5</text>
<text x="694.2" y="798" textLength="7.9" lengthAdjust="spacingAndGlyphs">7</text>
<text x="855.2" y="798" textLength="15.8" lengthAdjust="spacingAndGlyphs">10</text>
<text x="962.2" y="798" textLength="15.8" lengthAdjust="spacingAndGlyphs">12</text>
<text x="1069.2" y="798" textLength="15.8" lengthAdjust="spacingAndGlyphs">14</text>
<text x="1230.2" y="798" textLength="15.8" lengthAdjust="spacingAndGlyphs">17</text>
<text x="1338.2" y="798" textLength="15.8" lengthAdjust="spacingAndGlyphs">19</text>
<text x="1445.2" y="798" textLength="15.8" lengthAdjust="spacingAndGlyphs">21</text>
<text x="1606.2" y="798" textLength="15.8" lengthAdjust="spacingAndGlyphs">24</text>
</g>
<clipPath id="tc"><rect x="9" y="774" width="1705" height="35"/></clipPath>
<text x="1713.5" y="798" font-size="15.4" fill="#d4d4d4" stroke="#d4d4d4" stroke-width="0.3" text-anchor="middle" textLength="15.8" lengthAdjust="spacingAndGlyphs" clip-path="url(#tc)">26</text>
<rect x="1714" y="133" width="59" height="21" fill="#26a69a" shape-rendering="crispEdges"/>
<rect x="1714" y="143" width="5" height="1" fill="#ffffff" shape-rendering="crispEdges"/>
<text x="1725.3" y="147.7" font-size="15.3" fill="#ffffff" stroke="#ffffff" stroke-width="0.3" textLength="36.3" lengthAdjust="spacingAndGlyphs">38:32</text>
<text x="19.7" y="81.6" font-size="15" font-weight="bold" fill="#d6d6d6" textLength="78.0" lengthAdjust="spacingAndGlyphs">LINK/USD,</text>
<text x="103.5" y="81.6" font-size="15" font-weight="bold" fill="#d6d6d6" textLength="21.5" lengthAdjust="spacingAndGlyphs">4h,</text>
<text x="131.6" y="81.6" font-size="15" font-weight="bold" fill="#d6d6d6" textLength="76.5" lengthAdjust="spacingAndGlyphs">COINBASE</text>
<text x="19.7" y="102.8" font-size="15" fill="#d0d0d0" textLength="32.8" lengthAdjust="spacingAndGlyphs">EMA</text>
<text x="57.4" y="102.8" font-size="15" fill="#d0d0d0" textLength="15.1" lengthAdjust="spacingAndGlyphs">or</text>
<text x="77.4" y="102.8" font-size="15" fill="#d0d0d0" textLength="32.3" lengthAdjust="spacingAndGlyphs">SMA</text>
<text x="114.6" y="102.8" font-size="15" fill="#d0d0d0" textLength="25.7" lengthAdjust="spacingAndGlyphs">(34,</text>
<text x="145.6" y="102.8" font-size="15" fill="#d0d0d0" textLength="43.9" lengthAdjust="spacingAndGlyphs">ohlc4)</text>
<text x="8.3" y="21.8" font-size="16" font-weight="bold" fill="#ffffff" textLength="126.7" lengthAdjust="spacingAndGlyphs">shaurya15malwa</text>
<text x="140.8" y="21.8" font-size="16" fill="#ffffff" textLength="67.3" lengthAdjust="spacingAndGlyphs">published</text>
<text x="214.0" y="21.8" font-size="16" fill="#ffffff" textLength="17.4" lengthAdjust="spacingAndGlyphs">on</text>
<text x="237.2" y="21.8" font-size="16" fill="#ffffff" textLength="128.8" lengthAdjust="spacingAndGlyphs">TradingView.com,</text>
<text x="371.7" y="21.8" font-size="16" fill="#ffffff" textLength="47.4" lengthAdjust="spacingAndGlyphs">August</text>
<text x="425.6" y="21.8" font-size="16" fill="#ffffff" textLength="19.1" lengthAdjust="spacingAndGlyphs">15,</text>
<text x="451.0" y="21.8" font-size="16" fill="#ffffff" textLength="34.0" lengthAdjust="spacingAndGlyphs">2020</text>
<text x="491.3" y="21.8" font-size="16" fill="#ffffff" textLength="61.8" lengthAdjust="spacingAndGlyphs">20:51:30</text>
<text x="559.0" y="21.8" font-size="16" fill="#ffffff" textLength="20.0" lengthAdjust="spacingAndGlyphs">IST</text>
<text x="8.3" y="43.6" font-size="15.3" font-weight="bold" fill="#ffffff" textLength="153.7" lengthAdjust="spacingAndGlyphs">COINBASE:LINKUSD,</text>
<text x="167.5" y="43.6" font-size="15.3" font-weight="bold" fill="#ffffff" textLength="26.1" lengthAdjust="spacingAndGlyphs">240</text>
<text x="201.8" y="43.6" font-size="15.3" fill="#ffffff" textLength="65.2" lengthAdjust="spacingAndGlyphs">19.11206</text>
<path d="M278.1 32.4 L284.3 43.2 L271.9 43.2 Z" fill="#26a69a"/>
<text x="290.0" y="43.6" font-size="15.3" fill="#ffffff" textLength="66.0" lengthAdjust="spacingAndGlyphs">+2.13214</text>
<text x="362.0" y="43.6" font-size="15.3" fill="#ffffff" textLength="71.6" lengthAdjust="spacingAndGlyphs">(+12.56%)</text>
<text x="439.7" y="43.6" font-size="15.3" font-weight="bold" fill="#ffffff" textLength="15.3" lengthAdjust="spacingAndGlyphs">O:</text>
<text x="458.0" y="43.6" font-size="15.3" fill="#26a69a" textLength="65.7" lengthAdjust="spacingAndGlyphs">17.60812</text>
<text x="530.8" y="43.6" font-size="15.3" font-weight="bold" fill="#ffffff" textLength="14.0" lengthAdjust="spacingAndGlyphs">H:</text>
<text x="547.8" y="43.6" font-size="15.3" fill="#26a69a" textLength="66.4" lengthAdjust="spacingAndGlyphs">19.45527</text>
<text x="620.7" y="43.6" font-size="15.3" font-weight="bold" fill="#ffffff" textLength="11.6" lengthAdjust="spacingAndGlyphs">L:</text>
<text x="635.0" y="43.6" font-size="15.3" fill="#26a69a" textLength="66.3" lengthAdjust="spacingAndGlyphs">17.52110</text>
<text x="707.6" y="43.6" font-size="15.3" font-weight="bold" fill="#ffffff" textLength="13.6" lengthAdjust="spacingAndGlyphs">C:</text>
<text x="724.5" y="43.6" font-size="15.3" fill="#26a69a" textLength="66.2" lengthAdjust="spacingAndGlyphs">19.11206</text>
<g fill="#2196f3">
<circle cx="21.6" cy="830.4" r="7.5"/><circle cx="13.9" cy="836" r="6"/><circle cx="34.6" cy="836.6" r="5.4"/><circle cx="32.8" cy="832.2" r="4.4"/><path d="M13.9 832 L32 830 L36 834 L34.6 842 L13.9 842 Z"/>
</g>
<path d="M9 839.1 L20 830.6 L27.9 837.3 L35.8 829" fill="none" stroke="#131722" stroke-width="1.2"/>
<circle cx="20" cy="830.6" r="1.85" fill="#131722"/><circle cx="27.9" cy="837.3" r="1.95" fill="#131722"/>
<text x="42.0" y="837.9" font-size="15.3" fill="#ffffff" textLength="89.3" lengthAdjust="spacingAndGlyphs">TradingView</text>
</svg></body></html>
